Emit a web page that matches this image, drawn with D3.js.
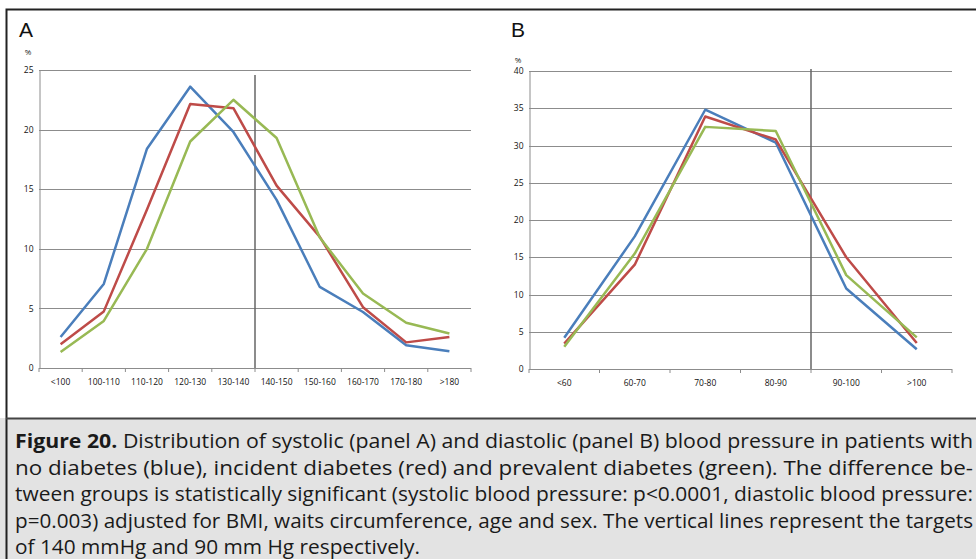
<!DOCTYPE html>
<html>
<head>
<meta charset="utf-8">
<script src="https://cdn.jsdelivr.net/npm/d3@7"></script>
<style>
  body { margin: 0; background: #fff; }
  svg { display: block; }
</style>
</head>
<body>
<svg id="area" width="976" height="559"></svg>
<script>
const seriesNames = ['no diabetes', 'incident diabetes', 'prevalent diabetes'];
const seriesColors = ['#4a7ebb', '#be4b48', '#98b954'];

// panel A: systolic
const catsA = ['<100', '100-110', '110-120', '120-130', '130-140', '140-150', '150-160', '160-170', '170-180', '>180'];
const blueA = [2.6, 7.05, 18.4, 23.6, 19.8, 14.1, 6.8, 4.7, 1.9, 1.4];
const redA = [2.0, 4.75, 13.3, 22.15, 21.8, 15.3, 11.0, 5.1, 2.15, 2.6];
const greenA = [1.35, 3.95, 10.0, 19.0, 22.5, 19.3, 10.95, 6.25, 3.8, 2.9];
const ticksA = [0, 5, 10, 15, 20, 25];

// panel B: diastolic
const catsB = ['<60', '60-70', '70-80', '80-90', '90-100', '>100'];
const blueB = [4.2, 17.8, 34.8, 30.4, 10.8, 2.65];
const redB = [3.4, 14.0, 33.9, 30.8, 15.0, 3.5];
const greenB = [3.0, 15.5, 32.5, 31.95, 12.6, 4.25];
const ticksB = [0, 5, 10, 15, 20, 25, 30, 35, 40];

const captionLines = [
  'Distribution of systolic (panel A) and diastolic (panel B) blood pressure in patients with',
  'no diabetes (blue), incident diabetes (red) and prevalent diabetes (green). The difference be-',
  'tween groups is statistically significant (systolic blood pressure: p<0.0001, diastolic blood pressure:',
  'p=0.003) adjusted for BMI, waits circumference, age and sex. The vertical lines represent the targets',
  'of 140 mmHg and 90 mm Hg respectively.'
];

const svg = d3.select('#area');
const labelFont = '"Open Sans", sans-serif';

// frame
svg.append('rect')
  .attr('x', 0).attr('y', 418).attr('width', 976).attr('height', 141)
  .attr('fill', '#e3e3e3');
svg.append('path')
  .attr('d', 'M6.5,559V9.5H976')
  .attr('fill', 'none').attr('stroke', '#222').attr('stroke-width', 2);
svg.append('line')
  .attr('x1', 6).attr('x2', 976).attr('y1', 418.5).attr('y2', 418.5)
  .attr('stroke', '#444').attr('stroke-width', 2);

function drawPanel(cfg) {
  const g = svg.append('g');
  const x = d3.scaleBand(cfg.cats, [cfg.x0, cfg.x1]);
  const y = d3.scaleLinear([0, cfg.max], [cfg.y0, cfg.y1]);

  // grid
  g.append('g')
    .selectAll('line')
    .data(cfg.ticks.filter((d) => d > 0))
    .join('line')
    .attr('x1', cfg.x0).attr('x2', cfg.x1)
    .attr('y1', (d) => Math.round(y(d)) + 0.5)
    .attr('y2', (d) => Math.round(y(d)) + 0.5)
    .attr('stroke', '#8c8c8c');

  // y axis
  const yAxis = g.append('g')
    .attr('transform', `translate(${cfg.x0 + 0.5},0)`)
    .call(d3.axisLeft(y).tickValues(cfg.ticks).tickSize(0).tickPadding(6));
  yAxis.select('.domain').attr('stroke', '#8c8c8c');
  yAxis.selectAll('text').style('font', `8.5px ${labelFont}`).attr('fill', '#111');

  // x axis with ticks at band edges
  const xg = g.append('g');
  xg.append('line')
    .attr('x1', cfg.x0).attr('x2', cfg.x1)
    .attr('y1', cfg.y0 + 0.5).attr('y2', cfg.y0 + 0.5)
    .attr('stroke', '#8c8c8c');
  xg.selectAll('.tk')
    .data(cfg.cats.concat(['end']))
    .join('line')
    .attr('class', 'tk')
    .attr('x1', (d) => (d === 'end' ? cfg.x1 : x(d)))
    .attr('x2', (d) => (d === 'end' ? cfg.x1 : x(d)))
    .attr('y1', cfg.y0).attr('y2', cfg.y0 + 4)
    .attr('stroke', '#8c8c8c');
  xg.selectAll('text')
    .data(cfg.cats)
    .join('text')
    .attr('x', (d) => x(d) + x.bandwidth() / 2)
    .attr('y', cfg.y0 + 17)
    .attr('text-anchor', 'middle')
    .style('font', `8.5px ${labelFont}`)
    .attr('fill', '#111')
    .text((d) => d);

  // target line
  const tx = x(cfg.target);
  g.append('line')
    .attr('x1', tx).attr('x2', tx)
    .attr('y1', cfg.targetTop).attr('y2', cfg.y0)
    .attr('stroke', '#666').attr('stroke-width', 1.5);

  // series
  const line = d3.line()
    .x((d, i) => x(cfg.cats[i]) + x.bandwidth() / 2)
    .y((d) => y(d));
  g.append('g')
    .selectAll('path')
    .data(cfg.series)
    .join('path')
    .attr('d', (d) => line(d))
    .attr('fill', 'none')
    .attr('stroke', (d, i) => seriesColors[i])
    .attr('stroke-width', 2.5)
    .attr('stroke-linejoin', 'round');

  // labels
  g.append('text')
    .attr('x', cfg.labelX).attr('y', 37)
    .style('font', '21px "Liberation Sans", Arial, sans-serif')
    .attr('fill', '#111')
    .text(cfg.label);
  g.append('text')
    .attr('x', cfg.pctX).attr('y', cfg.pctY)
    .attr('text-anchor', 'middle')
    .style('font', `8px ${labelFont}`)
    .attr('fill', '#222')
    .text('%');
}

drawPanel({
  cats: catsA, series: [blueA, redA, greenA], ticks: ticksA, max: 25,
  x0: 39, x1: 471, y0: 368, y1: 70, target: '140-150', targetTop: 75,
  label: 'A', labelX: 19, pctX: 28, pctY: 55
});

drawPanel({
  cats: catsB, series: [blueB, redB, greenB], ticks: ticksB, max: 40,
  x0: 529, x1: 952, y0: 369, y1: 71, target: '90-100', targetTop: 69,
  label: 'B', labelX: 511, pctX: 518, pctY: 63
});

// caption, justified and condensed to the box width
const cap = svg.append('g')
  .style('font', `20px ${labelFont}`)
  .attr('fill', '#1a1a1a');
const capWidths = [958, 958, 958, 958, 405];
captionLines.forEach((t, i) => {
  const txt = cap.append('text')
    .attr('x', 15)
    .attr('y', 448 + i * 26.6);
  if (i === 0) {
    txt.append('tspan').attr('font-weight', 'bold').text('Figure 20.');
    txt.append('tspan').text(' ' + t);
  } else {
    txt.text(t);
  }
  txt.attr('textLength', capWidths[i]).attr('lengthAdjust', 'spacingAndGlyphs');
});
</script>
</body>
</html>
